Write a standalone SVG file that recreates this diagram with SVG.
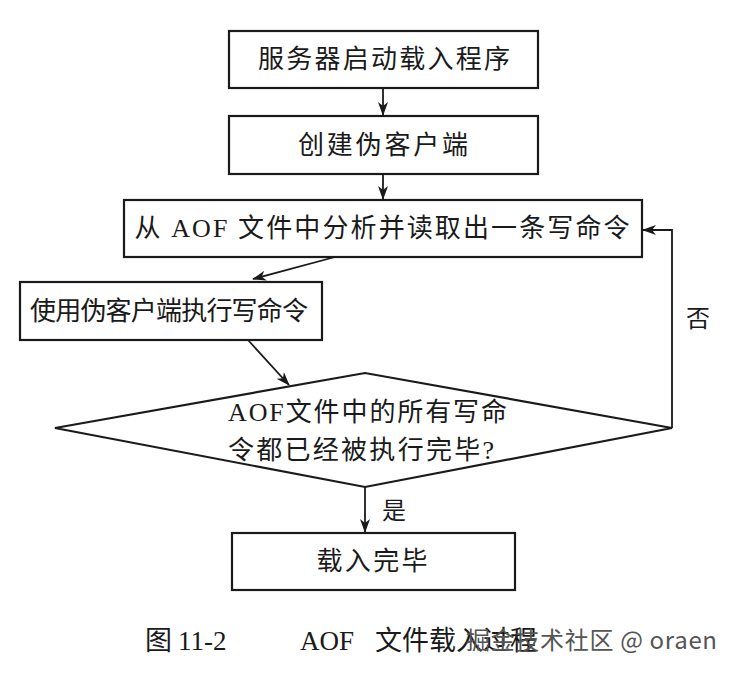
<svg xmlns="http://www.w3.org/2000/svg" width="740" height="680" viewBox="0 0 740 680">
<defs>
<style>
.box{fill:#fff;stroke:#1a1a1a;stroke-width:2.2}
.t{font-family:"Liberation Serif","Noto Sans CJK SC",serif;font-size:26px;fill:#1a1a1a}
.c{text-anchor:middle}
.conn{fill:none;stroke:#1a1a1a;stroke-width:1.8}
.wm{font-family:"Noto Sans CJK SC","Liberation Sans",sans-serif;font-size:24px;fill:#555}
</style>
<marker id="ah" viewBox="0 0 14 10" refX="13" refY="5" markerWidth="14" markerHeight="10" markerUnits="userSpaceOnUse" orient="auto">
<path d="M0,0 L14,5 L0,10 L4,5 z" fill="#1a1a1a"/>
</marker>
</defs>
<rect width="740" height="680" fill="#fff"/>
<g id="n1"><rect class="box" x="229" y="31" width="309" height="57"/><text class="t c" x="384" y="68" textLength="252" lengthAdjust="spacing">服务器启动载入程序</text></g>
<g id="n2"><rect class="box" x="229" y="116" width="309" height="58"/><text class="t c" x="383" y="154" textLength="170" lengthAdjust="spacing">创建伪客户端</text></g>
<g id="n3"><rect class="box" x="124" y="200" width="518" height="57"/><text class="t c" x="382" y="237" textLength="495" lengthAdjust="spacing">从 AOF 文件中分析并读取出一条写命令</text></g>
<g id="n4"><rect class="box" x="20" y="282" width="302" height="58"/><text class="t c" x="169" y="320" textLength="278" lengthAdjust="spacing">使用伪客户端执行写命令</text></g>
<g id="n5"><polygon class="box" points="55,428 365,373 672,428 365,487"/><text class="t" x="228" y="421" textLength="279" lengthAdjust="spacing">AOF文件中的所有写命</text><text class="t" x="228" y="459" textLength="266" lengthAdjust="spacing">令都已经被执行完毕?</text></g>
<g id="n6"><rect class="box" x="232" y="533" width="283" height="57"/><text class="t c" x="372" y="570" textLength="111" lengthAdjust="spacing">载入完毕</text></g>
<g id="connectors">
<line class="conn" x1="383" y1="88" x2="383" y2="115" marker-end="url(#ah)"/>
<line class="conn" x1="383" y1="174" x2="383" y2="199" marker-end="url(#ah)"/>
<line class="conn" x1="335" y1="257" x2="253" y2="279" marker-end="url(#ah)"/>
<line class="conn" x1="248" y1="340" x2="289" y2="385" marker-end="url(#ah)"/>
<line class="conn" x1="365" y1="487" x2="365" y2="532" marker-end="url(#ah)"/>
<polyline class="conn" points="672,428 672,230 643,230" marker-end="url(#ah)"/>
<text class="t c" x="698" y="327" style="font-size:24px">否</text>
<text class="t c" x="394" y="519" style="font-size:24px">是</text>
</g>
<g id="caption">
<text class="t" x="145" y="650" style="font-size:27px">图</text>
<text class="t" x="178" y="650" style="font-size:27px">11-2</text>
<text class="t" x="300" y="650" style="font-size:27px">AOF</text>
<text class="t" x="375" y="650" style="font-size:27px">文件载入过程</text>
<text class="wm" x="466" y="649" textLength="251" lengthAdjust="spacing">掘金技术社区 @ oraen</text>
</g>
</svg>
